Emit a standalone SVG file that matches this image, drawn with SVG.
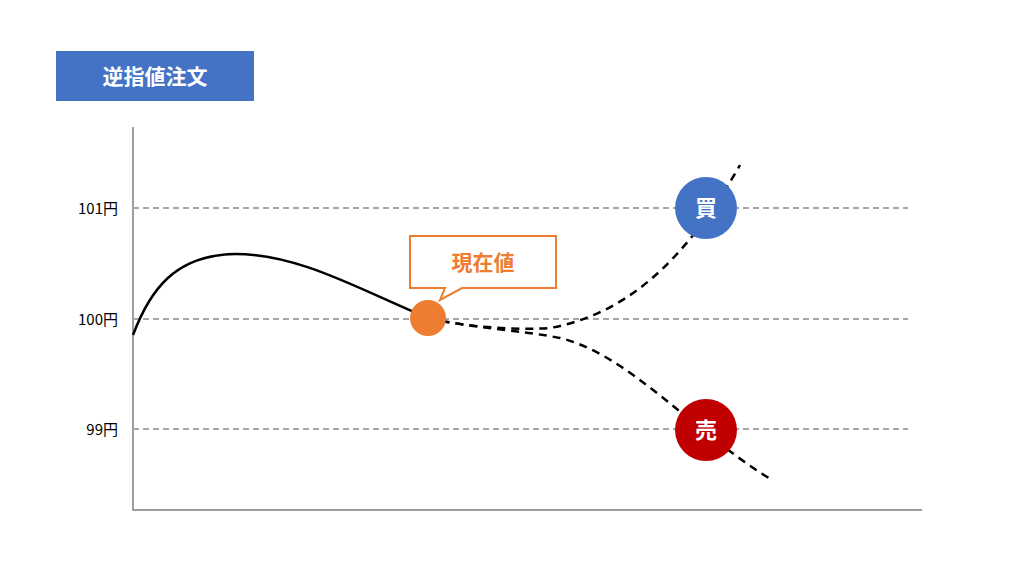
<svg xmlns="http://www.w3.org/2000/svg" width="1024" height="576" viewBox="0 0 1024 576">
<style>
.grid{stroke:#a6a6a6;stroke-width:2;stroke-dasharray:6,4;fill:none}
.lbl{font-family:"Noto Sans CJK JP","Noto Sans",sans-serif;font-size:15px;fill:#000;text-anchor:end}
.big{font-family:"Noto Sans CJK JP",sans-serif;font-weight:bold;text-anchor:middle}
.dash{stroke:#000;stroke-width:2.5;stroke-dasharray:8,6;fill:none}
</style>
<rect width="1024" height="576" fill="#fff"/>
<g id="title"><rect x="56" y="51" width="198" height="50" fill="#4472c4"/><text x="155" y="84" class="big" font-size="21" fill="#fff">逆指値注文</text></g>
<g id="axes"><path d="M133 127V510H922" stroke="#7f7f7f" stroke-width="1.5" fill="none"/>
<path class="grid" d="M133 208H908M133 319H908M133 429H908"/>
<text x="118" y="214" class="lbl">101円</text><text x="118" y="325" class="lbl">100円</text><text x="118" y="435" class="lbl">99円</text></g>
<g id="connectors">
<path d="M133 335C150 290 175 255 235 254C300 254 360 290 428 318" stroke="#000" stroke-width="2.5" fill="none"/>
<path class="dash" d="M428 318C470 328 520 330 550 328C620 315 680 270 740 165"/>
<path class="dash" d="M428 318C470 328 520 330 560 338C630 355 690 430 772 480"/>
</g>
<g id="current"><path d="M410 236H556V288H462L440 300L445 288H410Z" fill="#fff" stroke="#ed7d31" stroke-width="2"/>
<text x="483" y="270" class="big" font-size="21" fill="#ed7d31">現在値</text>
<circle cx="428" cy="318" r="18" fill="#ed7d31"/></g>
<g id="buy"><circle cx="706" cy="208" r="31" fill="#4472c4"/><text x="706" y="216" class="big" font-size="22" fill="#fff">買</text></g>
<g id="sell"><circle cx="706" cy="430" r="31" fill="#c00000"/><text x="706" y="438" class="big" font-size="22" fill="#fff">売</text></g>
</svg>
